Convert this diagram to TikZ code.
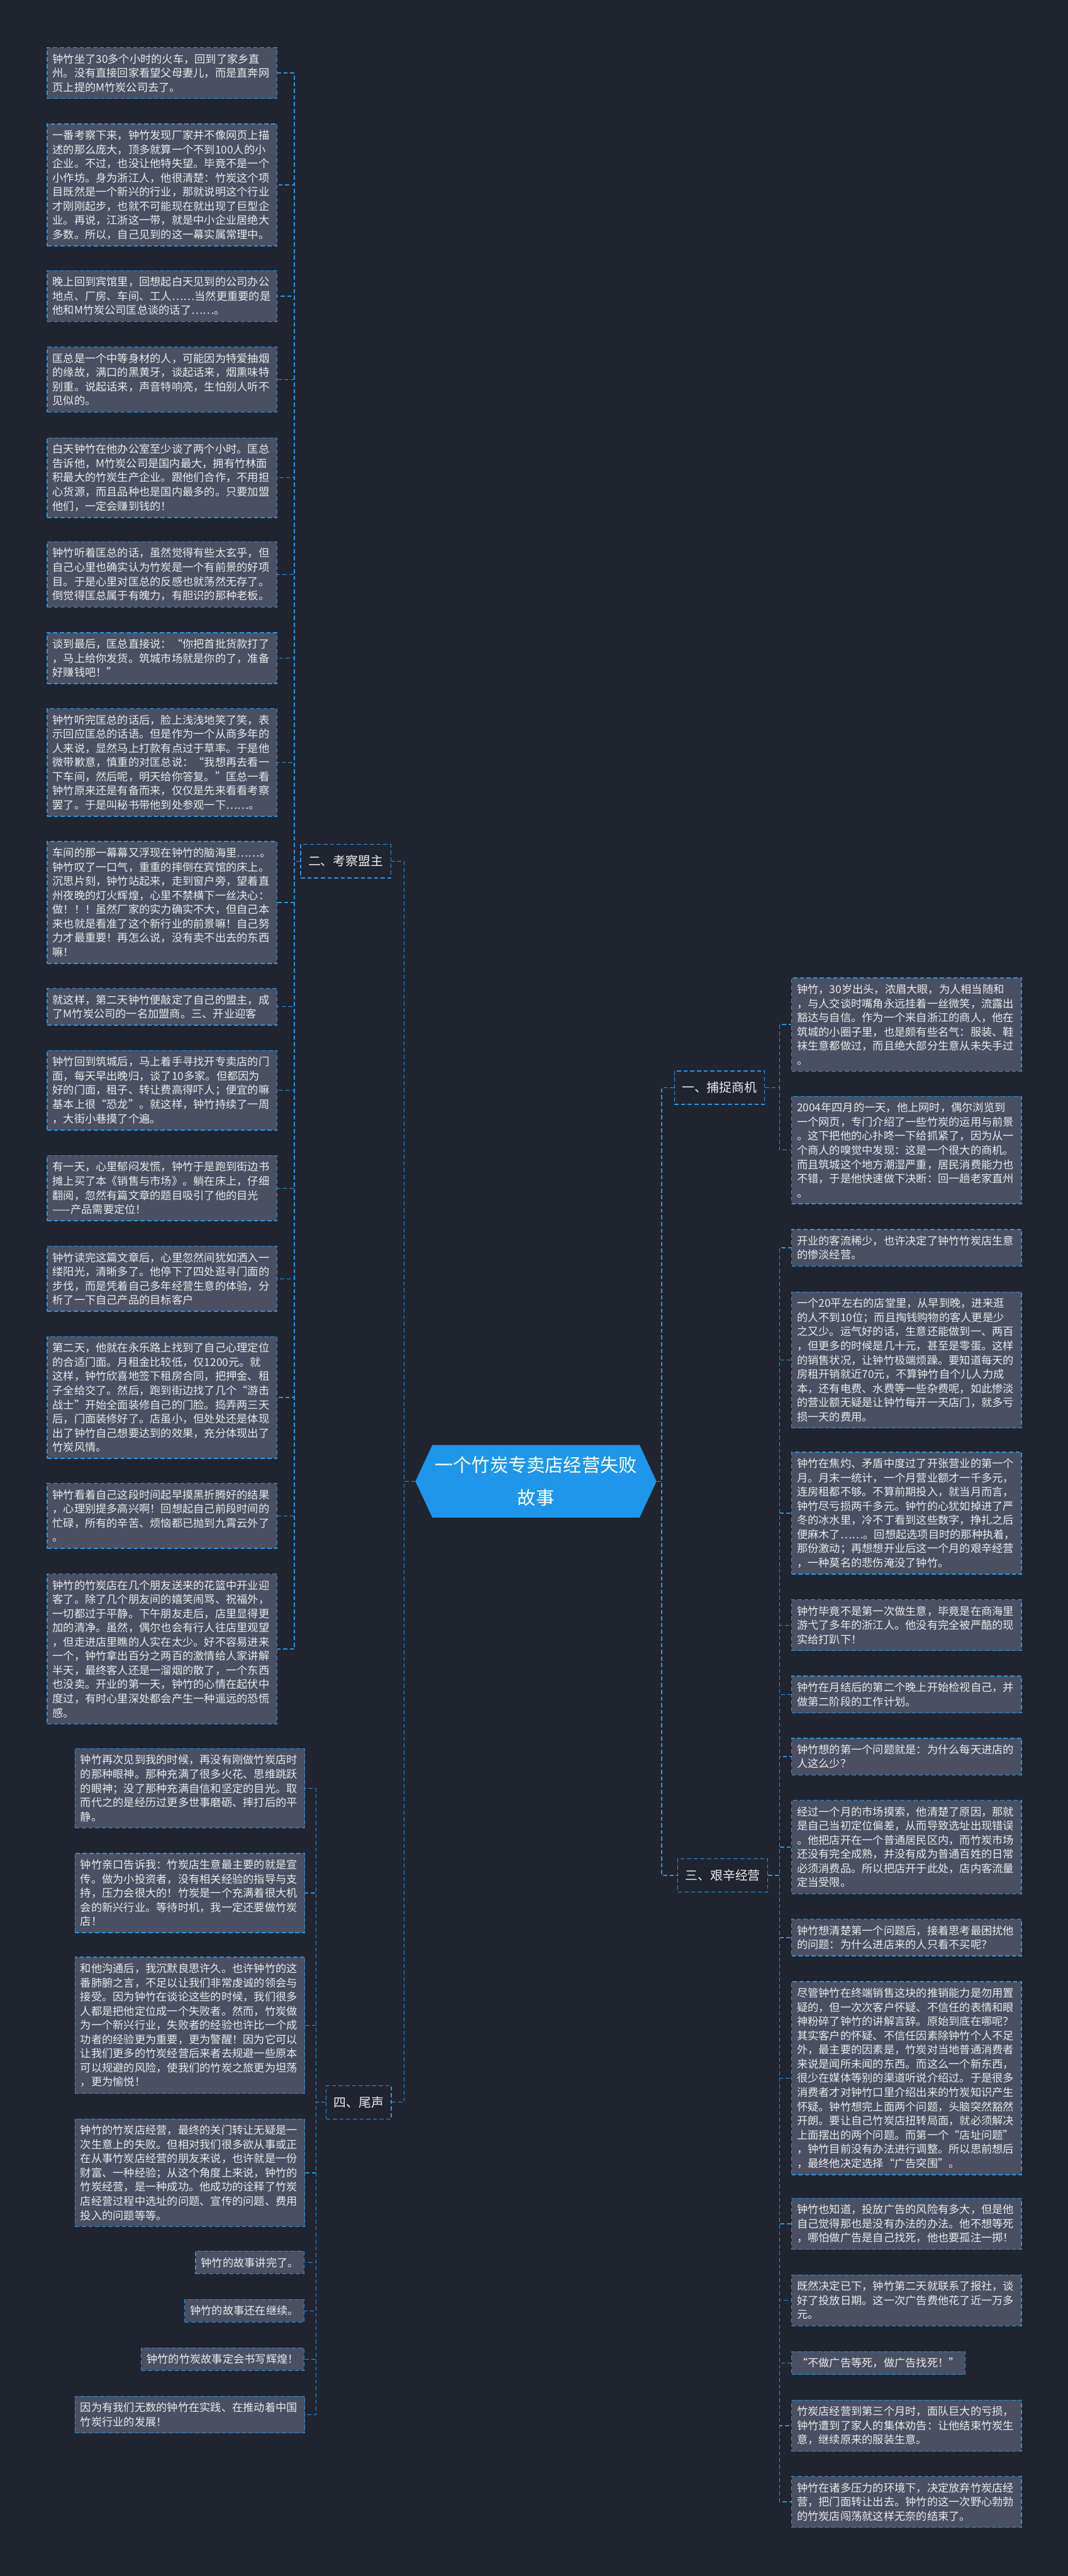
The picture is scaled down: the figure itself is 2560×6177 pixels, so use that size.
\documentclass[tikz,border=0pt]{standalone}
\usepackage{fontspec}
\setmainfont{Noto Sans CJK SC}
\usetikzlibrary{shapes.symbols}
\definecolor{bgnavy}{HTML}{20242F}
\definecolor{cardgray}{HTML}{4A5062}
\definecolor{linkblue}{HTML}{2A94E0}
\definecolor{rootblue}{HTML}{1E96EA}

\begin{document}
\begin{tikzpicture}[x=0.5pt,y=-0.5pt]
  \tikzset{
    link/.style={draw=linkblue, line width=1pt, dash pattern=on 5pt off 3pt},
    leaf/.style={draw=linkblue, line width=1pt, dash pattern=on 5pt off 3pt,
      fill=cardgray, text=white!92!black, align=left,
      font=\fontsize{13pt}{17pt}\selectfont, inner xsep=6.5pt, inner ysep=7.5pt},
    leafwide/.style={leaf, text width=262.5pt, anchor=north west},
    branch/.style={draw=linkblue, line width=1pt, dash pattern=on 5pt off 3pt,
      fill=bgnavy, text=white!92!black, font=\fontsize{15pt}{18pt}\selectfont,
      minimum height=40pt, inner xsep=9pt},
    root/.style={shape=signal, signal to=west and east, signal pointer angle=130,
      fill=rootblue, text=white, align=center, font=\fontsize{22pt}{39pt}\selectfont,
      minimum width=289pt, minimum height=87pt, inner sep=0pt}
  }
  \fill[bgnavy] (0,0) rectangle (2560,6177);
  \useasboundingbox (0,0) rectangle (2560,6177);

  % centre and the four branches
  \node[root] (story) at (1285,3552) {一个竹炭专卖店经营失败\\故事};
  \node[branch] (kc) at (829,2065) {二、考察盟主};
  \node[branch] (bz) at (1725,2608) {一、捕捉商机};
  \node[branch] (jx) at (1733,4497) {三、艰辛经营};
  \node[branch] (ws) at (860,5041) {四、尾声};

  % 二、考察盟主
  \node[leafwide] (l1) at (112,113) {钟竹坐了30多个小时的火车，回到了家乡直\\州。没有直接回家看望父母妻儿，而是直奔网\\页上提的M竹炭公司去了。};
  \node[leafwide] (l2) at (112,296) {一番考察下来，钟竹发现厂家并不像网页上描\\述的那么庞大，顶多就算一个不到100人的小\\企业。不过，也没让他特失望。毕竟不是一个\\小作坊。身为浙江人，他很清楚：竹炭这个项\\目既然是一个新兴的行业，那就说明这个行业\\才刚刚起步，也就不可能现在就出现了巨型企\\业。再说，江浙这一带，就是中小企业居绝大\\多数。所以，自己见到的这一幕实属常理中。};
  \node[leafwide] (l3) at (112,648) {晚上回到宾馆里，回想起白天见到的公司办公\\地点、厂房、车间、工人……当然更重要的是\\他和M竹炭公司匡总谈的话了……。};
  \node[leafwide] (l4) at (112,831) {匡总是一个中等身材的人，可能因为特爱抽烟\\的缘故，满口的黑黄牙，谈起话来，烟熏味特\\别重。说起话来，声音特响亮，生怕别人听不\\见似的。};
  \node[leafwide] (l5) at (112,1049) {白天钟竹在他办公室至少谈了两个小时。匡总\\告诉他，M竹炭公司是国内最大，拥有竹林面\\积最大的竹炭生产企业。跟他们合作，不用担\\心货源，而且品种也是国内最多的。只要加盟\\他们，一定会赚到钱的！};
  \node[leafwide] (l6) at (112,1298) {钟竹听着匡总的话，虽然觉得有些太玄乎，但\\自己心里也确实认为竹炭是一个有前景的好项\\目。于是心里对匡总的反感也就荡然无存了。\\倒觉得匡总属于有魄力，有胆识的那种老板。};
  \node[leafwide] (l7) at (112,1516) {谈到最后，匡总直接说：“你把首批货款打了\\，马上给你发货。筑城市场就是你的了，准备\\好赚钱吧！”};
  \node[leafwide] (l8) at (112,1698) {钟竹听完匡总的话后，脸上浅浅地笑了笑，表\\示回应匡总的话语。但是作为一个从商多年的\\人来说，显然马上打款有点过于草率。于是他\\微带歉意，慎重的对匡总说：“我想再去看一\\下车间，然后呢，明天给你答复。”匡总一看\\钟竹原来还是有备而来，仅仅是先来看看考察\\罢了。于是叫秘书带他到处参观一下……。};
  \node[leafwide] (l9) at (112,2017) {车间的那一幕幕又浮现在钟竹的脑海里……。\\钟竹叹了一口气，重重的摔倒在宾馆的床上。\\沉思片刻，钟竹站起来，走到窗户旁，望着直\\州夜晚的灯火辉煌，心里不禁横下一丝决心：\\做！！！虽然厂家的实力确实不大，但自己本\\来也就是看准了这个新行业的前景嘛！自己努\\力才最重要！再怎么说，没有卖不出去的东西\\嘛！};
  \node[leafwide] (l10) at (112,2369) {就这样，第二天钟竹便敲定了自己的盟主，成\\了M竹炭公司的一名加盟商。三、开业迎客};
  \node[leafwide] (l11) at (112,2518) {钟竹回到筑城后，马上着手寻找开专卖店的门\\面，每天早出晚归，谈了10多家。但都因为\\好的门面，租子、转让费高得吓人；便宜的嘛\\基本上很“恐龙”。就这样，钟竹持续了一周\\，大街小巷摸了个遍。};
  \node[leafwide] (l12) at (112,2770) {有一天，心里郁闷发慌，钟竹于是跑到街边书\\摊上买了本《销售与市场》。躺在床上，仔细\\翻阅，忽然有篇文章的题目吸引了他的目光\\——产品需要定位！};
  \node[leafwide] (l13) at (112,2987) {钟竹读完这篇文章后，心里忽然间犹如洒入一\\缕阳光，清晰多了。他停下了四处逛寻门面的\\步伐，而是凭着自己多年经营生意的体验，分\\析了一下自己产品的目标客户};
  \node[leafwide] (l14) at (112,3204) {第二天，他就在永乐路上找到了自己心理定位\\的合适门面。月租金比较低，仅1200元。就\\这样，钟竹欣喜地签下租房合同，把押金、租\\子全给交了。然后，跑到街边找了几个“游击\\战士”开始全面装修自己的门脸。捣弄两三天\\后，门面装修好了。店虽小，但处处还是体现\\出了钟竹自己想要达到的效果，充分体现出了\\竹炭风情。};
  \node[leafwide] (l15) at (112,3556) {钟竹看着自己这段时间起早摸黑折腾好的结果\\，心理别提多高兴啊！回想起自己前段时间的\\忙碌，所有的辛苦、烦恼都已抛到九霄云外了\\。};
  \node[leafwide] (l16) at (112,3773) {钟竹的竹炭店在几个朋友送来的花篮中开业迎\\客了。除了几个朋友间的嬉笑闹骂、祝福外，\\一切都过于平静。下午朋友走后，店里显得更\\加的清净。虽然，偶尔也会有行人往店里观望\\，但走进店里瞧的人实在太少。好不容易进来\\一个，钟竹拿出百分之两百的激情给人家讲解\\半天，最终客人还是一溜烟的散了，一个东西\\也没卖。开业的第一天，钟竹的心情在起伏中\\度过，有时心里深处都会产生一种遥远的恐慌\\感。};

  % 一、捕捉商机
  \node[leafwide] (r1) at (1897,2344) {钟竹，30岁出头，浓眉大眼，为人相当随和\\，与人交谈时嘴角永远挂着一丝微笑，流露出\\豁达与自信。作为一个来自浙江的商人，他在\\筑城的小圈子里，也是颇有些名气：服装、鞋\\袜生意都做过，而且绝大部分生意从未失手过\\。};
  \node[leafwide] (r2) at (1897,2628) {2004年四月的一天，他上网时，偶尔浏览到\\一个网页，专门介绍了一些竹炭的运用与前景\\。这下把他的心扑咚一下给抓紧了，因为从一\\个商人的嗅觉中发现：这是一个很大的商机。\\而且筑城这个地方潮湿严重，居民消费能力也\\不错，于是他快速做下决断：回一趟老家直州\\。};

  % 三、艰辛经营
  \node[leafwide] (r3) at (1897,2947) {开业的客流稀少，也许决定了钟竹竹炭店生意\\的惨淡经营。};
  \node[leafwide] (r4) at (1897,3097) {一个20平左右的店堂里，从早到晚，进来逛\\的人不到10位；而且掏钱购物的客人更是少\\之又少。运气好的话，生意还能做到一、两百\\，但更多的时候是几十元，甚至是零蛋。这样\\的销售状况，让钟竹极端烦躁。要知道每天的\\房租开销就近70元，不算钟竹自个儿人力成\\本，还有电费、水费等一些杂费呢，如此惨淡\\的营业额无疑是让钟竹每开一天店门，就多亏\\损一天的费用。};
  \node[leafwide] (r5) at (1897,3481) {钟竹在焦灼、矛盾中度过了开张营业的第一个\\月。月末一统计，一个月营业额才一千多元，\\连房租都不够。不算前期投入，就当月而言，\\钟竹尽亏损两千多元。钟竹的心犹如掉进了严\\冬的冰水里，冷不丁看到这些数字，挣扎之后\\便麻木了……。回想起选项目时的那种执着，\\那份激动；再想想开业后这一个月的艰辛经营\\，一种莫名的悲伤淹没了钟竹。};
  \node[leafwide] (r6) at (1897,3835) {钟竹毕竟不是第一次做生意，毕竟是在商海里\\游弋了多年的浙江人。他没有完全被严酷的现\\实给打趴下！};
  \node[leafwide] (r7) at (1897,4018) {钟竹在月结后的第二个晚上开始检视自己，并\\做第二阶段的工作计划。};
  \node[leafwide] (r8) at (1897,4167) {钟竹想的第一个问题就是：为什么每天进店的\\人这么少？};
  \node[leafwide] (r9) at (1897,4316) {经过一个月的市场摸索，他清楚了原因，那就\\是自己当初定位偏差，从而导致选址出现错误\\。他把店开在一个普通居民区内，而竹炭市场\\还没有完全成熟，并没有成为普通百姓的日常\\必须消费品。所以把店开于此处，店内客流量\\定当受限。};
  \node[leafwide] (r10) at (1897,4601) {钟竹想清楚第一个问题后，接着思考最困扰他\\的问题：为什么进店来的人只看不买呢？};
  \node[leafwide] (r11) at (1897,4751) {尽管钟竹在终端销售这块的推销能力是勿用置\\疑的，但一次次客户怀疑、不信任的表情和眼\\神粉碎了钟竹的讲解言辞。原始到底在哪呢？\\其实客户的怀疑、不信任因素除钟竹个人不足\\外，最主要的因素是，竹炭对当地普通消费者\\来说是闻所未闻的东西。而这么一个新东西，\\很少在媒体等别的渠道听说介绍过。于是很多\\消费者才对钟竹口里介绍出来的竹炭知识产生\\怀疑。钟竹想完上面两个问题，头脑突然豁然\\开朗。要让自己竹炭店扭转局面，就必须解决\\上面摆出的两个问题。而第一个“店址问题”\\，钟竹目前没有办法进行调整。所以思前想后\\，最终他决定选择“广告突围”。};
  \node[leafwide] (r12) at (1897,5270) {钟竹也知道，投放广告的风险有多大，但是他\\自己觉得那也是没有办法的办法。他不想等死\\，哪怕做广告是自己找死，他也要孤注一掷！};
  \node[leafwide] (r13) at (1897,5454) {既然决定已下，钟竹第二天就联系了报社，谈\\好了投放日期。这一次广告费他花了近一万多\\元。};
  \node[leaf, anchor=north west] (r14) at (1897,5638) {“不做广告等死，做广告找死！”};
  \node[leafwide] (r15) at (1897,5754) {竹炭店经营到第三个月时，面队巨大的亏损，\\钟竹遭到了家人的集体劝告：让他结束竹炭生\\意，继续原来的服装生意。};
  \node[leafwide] (r16) at (1897,5937) {钟竹在诸多压力的环境下，决定放弃竹炭店经\\营，把门面转让出去。钟竹的这一次野心勃勃\\的竹炭店闯荡就这样无奈的结束了。};

  % 四、尾声
  \node[leafwide] (b1) at (179,4192) {钟竹再次见到我的时候，再没有刚做竹炭店时\\的那种眼神。那种充满了很多火花、思维跳跃\\的眼神；没了那种充满自信和坚定的目光。取\\而代之的是经历过更多世事磨砺、摔打后的平\\静。};
  \node[leafwide] (b2) at (179,4443) {钟竹亲口告诉我：竹炭店生意最主要的就是宣\\传。做为小投资者，没有相关经验的指导与支\\持，压力会很大的！竹炭是一个充满着很大机\\会的新兴行业。等待时机，我一定还要做竹炭\\店！};
  \node[leafwide] (b3) at (179,4692) {和他沟通后，我沉默良思许久。也许钟竹的这\\番肺腑之言，不足以让我们非常虔诚的领会与\\接受。因为钟竹在谈论这些的时候，我们很多\\人都是把他定位成一个失败者。然而，竹炭做\\为一个新兴行业，失败者的经验也许比一个成\\功者的经验更为重要，更为警醒！因为它可以\\让我们更多的竹炭经营后来者去规避一些原本\\可以规避的风险，使我们的竹炭之旅更为坦荡\\，更为愉悦！};
  \node[leafwide] (b4) at (179,5080) {钟竹的竹炭店经营，最终的关门转让无疑是一\\次生意上的失败。但相对我们很多欲从事或正\\在从事竹炭店经营的朋友来说，也许就是一份\\财富、一种经验；从这个角度上来说，钟竹的\\竹炭经营，是一种成功。他成功的诠释了竹炭\\店经营过程中选址的问题、宣传的问题、费用\\投入的问题等等。};
  \node[leaf, anchor=north east] (b5) at (730,5397) {钟竹的故事讲完了。};
  \node[leaf, anchor=north east] (b6) at (730,5513) {钟竹的故事还在继续。};
  \node[leaf, anchor=north east] (b7) at (730,5629) {钟竹的竹炭故事定会书写辉煌！};
  \node[leafwide] (b8) at (179,5745) {因为有我们无数的钟竹在实践、在推动着中国\\竹炭行业的发展！};

  % connectors
  \path (story.west) ++(-27,0) coordinate (hubL);
  \path (story.east) ++(12,0) coordinate (hubR);
  \path (kc.west) ++(-14,0) coordinate (kcT);
  \path (ws.west) ++(-23,0) coordinate (wsT);
  \path (bz.east) ++(35,0) coordinate (bzT);
  \path (jx.east) ++(27,0) coordinate (jxT);

  \foreach \b in {kc,ws} \draw[link] (story.west) -- (hubL) |- (\b.east);
  \foreach \b in {bz,jx} \draw[link] (story.east) -- (hubR) |- (\b.west);
  \foreach \i in {1,...,16} \draw[link] (kc.west) -- (kcT) |- (l\i.east);
  \foreach \i in {1,...,8} \draw[link] (ws.west) -- (wsT) |- (b\i.east);
  \foreach \i in {1,2} \draw[link] (bz.east) -- (bzT) |- (r\i.west);
  \foreach \i in {3,...,16} \draw[link] (jx.east) -- (jxT) |- (r\i.west);
\end{tikzpicture}
\end{document}
